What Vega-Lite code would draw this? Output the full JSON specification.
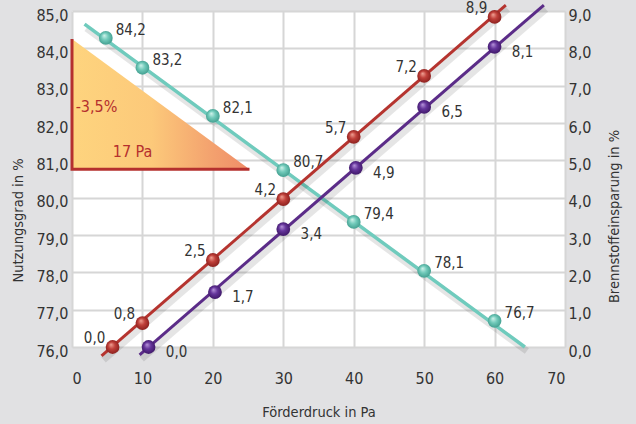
{
  "$schema": "https://vega.github.io/schema/vega-lite/v6.json",
  "width": 493,
  "height": 336,
  "autosize": {"type": "none"},
  "padding": {"left": 72, "top": 11, "right": 71, "bottom": 77},
  "background": "#e1e1e3",
  "config": {
    "view": {"fill": "#ffffff", "stroke": null},
    "font": "DejaVu Sans Condensed, Liberation Sans, sans-serif",
    "text": {"font": "DejaVu Sans Condensed, Liberation Sans, sans-serif"},
    "axis": {
      "labelFont": "DejaVu Sans Condensed, Liberation Sans, sans-serif",
      "titleFont": "DejaVu Sans Condensed, Liberation Sans, sans-serif",
      "labelColor": "#333333",
      "titleColor": "#333333",
      "titleFontWeight": "normal",
      "labelFontSize": 16,
      "titleFontSize": 14.5,
      "domain": false,
      "ticks": false,
      "gridColor": "#d6d6d6",
      "gridWidth": 2
    }
  },
  "datasets": {
    "teal": [
      {"x": 4.8, "y": 84.28, "label": "84,2"},
      {"x": 10, "y": 83.48, "label": "83,2"},
      {"x": 20, "y": 82.19, "label": "82,1"},
      {"x": 30, "y": 80.74, "label": "80,7"},
      {"x": 40, "y": 79.35, "label": "79,4"},
      {"x": 50, "y": 78.04, "label": "78,1"},
      {"x": 60, "y": 76.7, "label": "76,7"}
    ],
    "teal_line": [
      {"x": 1.78, "y": 84.65},
      {"x": 64.3, "y": 76.0}
    ],
    "spar": [
      {"s": "rot", "x": 5.76, "y": 0.0, "label": "0,0"},
      {"s": "rot", "x": 10, "y": 0.64, "label": "0,8"},
      {"s": "rot", "x": 20, "y": 2.33, "label": "2,5"},
      {"s": "rot", "x": 30, "y": 3.96, "label": "4,2"},
      {"s": "rot", "x": 40, "y": 5.63, "label": "5,7"},
      {"s": "rot", "x": 50, "y": 7.26, "label": "7,2"},
      {"s": "rot", "x": 60, "y": 8.84, "label": "8,9"},
      {"s": "lila", "x": 10.87, "y": 0.0, "label": "0,0"},
      {"s": "lila", "x": 20.3, "y": 1.47, "label": "1,7"},
      {"s": "lila", "x": 30, "y": 3.16, "label": "3,4"},
      {"s": "lila", "x": 40.3, "y": 4.8, "label": "4,9"},
      {"s": "lila", "x": 50, "y": 6.43, "label": "6,5"},
      {"s": "lila", "x": 60, "y": 8.04, "label": "8,1"}
    ],
    "spar_line": [
      {"s": "rot", "x": 4.19, "y": -0.24},
      {"s": "rot", "x": 61.6, "y": 9.16},
      {"s": "lila", "x": 9.6, "y": -0.21},
      {"s": "lila", "x": 67.0, "y": 9.16}
    ],
    "tri": [
      {"x": 0, "y": 84.25},
      {"x": 25.2, "y": 80.76}
    ],
    "frame": [
      {"x": 0, "y": 84.25, "o": 1},
      {"x": 0, "y": 80.76, "o": 2},
      {"x": 25.2, "y": 80.76, "o": 3}
    ],
    "notes": [
      {"x": 3.48, "y": 82.43, "t": "-3,5%"},
      {"x": 8.6, "y": 81.22, "t": "17 Pa"}
    ]
  },
  "resolve": {"scale": {"y": "independent"}},
  "layer": [
    {
      "encoding": {
        "x": {
          "field": "x",
          "type": "quantitative",
          "scale": {"domain": [0, 70], "nice": false, "zero": false},
          "axis": {
            "values": [0, 10, 20, 30, 40, 50, 60, 70],
            "title": "Förderdruck in Pa",
            "labelPadding": 23,
            "titleY": 65,
            "titleBaseline": "middle",
            "grid": true
          }
        },
        "y": {
          "field": "y",
          "type": "quantitative",
          "scale": {"domain": [76, 85], "nice": false, "zero": false},
          "axis": {
            "orient": "left",
            "values": [76, 77, 78, 79, 80, 81, 82, 83, 84, 85],
            "labelExpr": "replace(format(datum.value, '.1f'), '.', ',')",
            "labelPadding": 4,
            "labelOffset": 4,
            "title": "Nutzungsgrad in %",
            "titleAngle": 270,
            "titleX": -54,
            "titleY": 209,
            "titleAlign": "center",
            "titleBaseline": "middle",
            "grid": true
          }
        }
      },
      "layer": [
        {
          "data": {"name": "tri"},
          "mark": {
            "type": "area",
            "fill": {
              "gradient": "linear",
              "x1": 0, "y1": 0, "x2": 1, "y2": 0,
              "stops": [
                {"offset": 0, "color": "#fed47e"},
                {"offset": 0.45, "color": "#fcc97a"},
                {"offset": 0.8, "color": "#f3a06e"},
                {"offset": 1, "color": "#ef8c68"}
              ]
            }
          },
          "encoding": {"y2": {"datum": 80.76}}
        },
        {
          "data": {"name": "frame"},
          "mark": {"type": "line", "color": "#b5302e", "strokeWidth": 3, "strokeJoin": "miter"},
          "encoding": {"order": {"field": "o", "type": "quantitative"}}
        },
        {
          "data": {"name": "notes"},
          "mark": {"type": "text", "color": "#b5302e", "fontSize": 16},
          "encoding": {"text": {"field": "t"}}
        },
        {
          "data": {"name": "teal_line"},
          "mark": {"type": "line", "color": "#000000", "opacity": 0.1, "strokeWidth": 7, "xOffset": 2, "yOffset": 4},
          "encoding": {}
        },
        {
          "data": {"name": "teal_line"},
          "mark": {"type": "line", "color": "#6fcbbd", "strokeWidth": 3.5},
          "encoding": {}
        },
        {
          "data": {"name": "teal"},
          "mark": {
            "type": "point",
            "shape": "circle",
            "size": 190,
            "filled": true,
            "opacity": 1,
            "fill": {
              "gradient": "radial",
              "x1": 0.38, "y1": 0.32, "r1": 0,
              "x2": 0.5, "y2": 0.5, "r2": 0.55,
              "stops": [
                {"offset": 0, "color": "#d2f3ec"},
                {"offset": 0.45, "color": "#72cbbb"},
                {"offset": 1, "color": "#3d9a8b"}
              ]
            }
          },
          "encoding": {}
        },
        {
          "data": {"name": "teal"},
          "mark": {"type": "text", "dx": 25, "dy": -8, "fontSize": 15, "color": "#333333"},
          "encoding": {"text": {"field": "label"}}
        }
      ]
    },
    {
      "data": {"name": "spar"},
      "encoding": {
        "x": {"field": "x", "type": "quantitative", "scale": {"domain": [0, 70], "nice": false, "zero": false}},
        "y": {
          "field": "y",
          "type": "quantitative",
          "scale": {"domain": [0, 9], "nice": false, "zero": false},
          "axis": {
            "orient": "right",
            "values": [0, 1, 2, 3, 4, 5, 6, 7, 8, 9],
            "labelExpr": "replace(format(datum.value, '.1f'), '.', ',')",
            "labelPadding": 3,
            "labelOffset": 4,
            "title": "Brennstoffeinsparung in %",
            "titleAngle": 270,
            "titleX": 49,
            "titleY": 205,
            "titleAlign": "center",
            "titleBaseline": "middle",
            "grid": false
          }
        }
      },
      "layer": [
        {
          "data": {"name": "spar_line"},
          "mark": {"type": "line", "color": "#000000", "opacity": 0.1, "strokeWidth": 7, "xOffset": 2, "yOffset": 4},
          "encoding": {"detail": {"field": "s"}}
        },
        {
          "data": {"name": "spar_line"},
          "mark": {"type": "line", "strokeWidth": 3},
          "encoding": {
            "color": {
              "field": "s",
              "type": "nominal",
              "scale": {"domain": ["rot", "lila"], "range": ["#b5342f", "#5b2c88"]},
              "legend": null
            }
          }
        },
        {
          "transform": [{"filter": "datum.s === 'rot'"}],
          "mark": {
            "type": "point",
            "shape": "circle",
            "size": 190,
            "filled": true,
            "opacity": 1,
            "fill": {
              "gradient": "radial",
              "x1": 0.38, "y1": 0.32, "r1": 0,
              "x2": 0.5, "y2": 0.5, "r2": 0.55,
              "stops": [
                {"offset": 0, "color": "#f2a497"},
                {"offset": 0.45, "color": "#c0403a"},
                {"offset": 1, "color": "#861d1b"}
              ]
            }
          }
        },
        {
          "transform": [{"filter": "datum.s === 'lila'"}],
          "mark": {
            "type": "point",
            "shape": "circle",
            "size": 190,
            "filled": true,
            "opacity": 1,
            "fill": {
              "gradient": "radial",
              "x1": 0.38, "y1": 0.32, "r1": 0,
              "x2": 0.5, "y2": 0.5, "r2": 0.55,
              "stops": [
                {"offset": 0, "color": "#b896dc"},
                {"offset": 0.45, "color": "#65359b"},
                {"offset": 1, "color": "#3b1563"}
              ]
            }
          }
        },
        {
          "transform": [{"filter": "datum.s === 'rot'"}],
          "mark": {"type": "text", "dx": -18, "dy": -9, "fontSize": 15, "color": "#333333"},
          "encoding": {"text": {"field": "label"}}
        },
        {
          "transform": [{"filter": "datum.s === 'lila'"}],
          "mark": {"type": "text", "dx": 28, "dy": 5, "fontSize": 15, "color": "#333333"},
          "encoding": {"text": {"field": "label"}}
        }
      ]
    }
  ]
}
